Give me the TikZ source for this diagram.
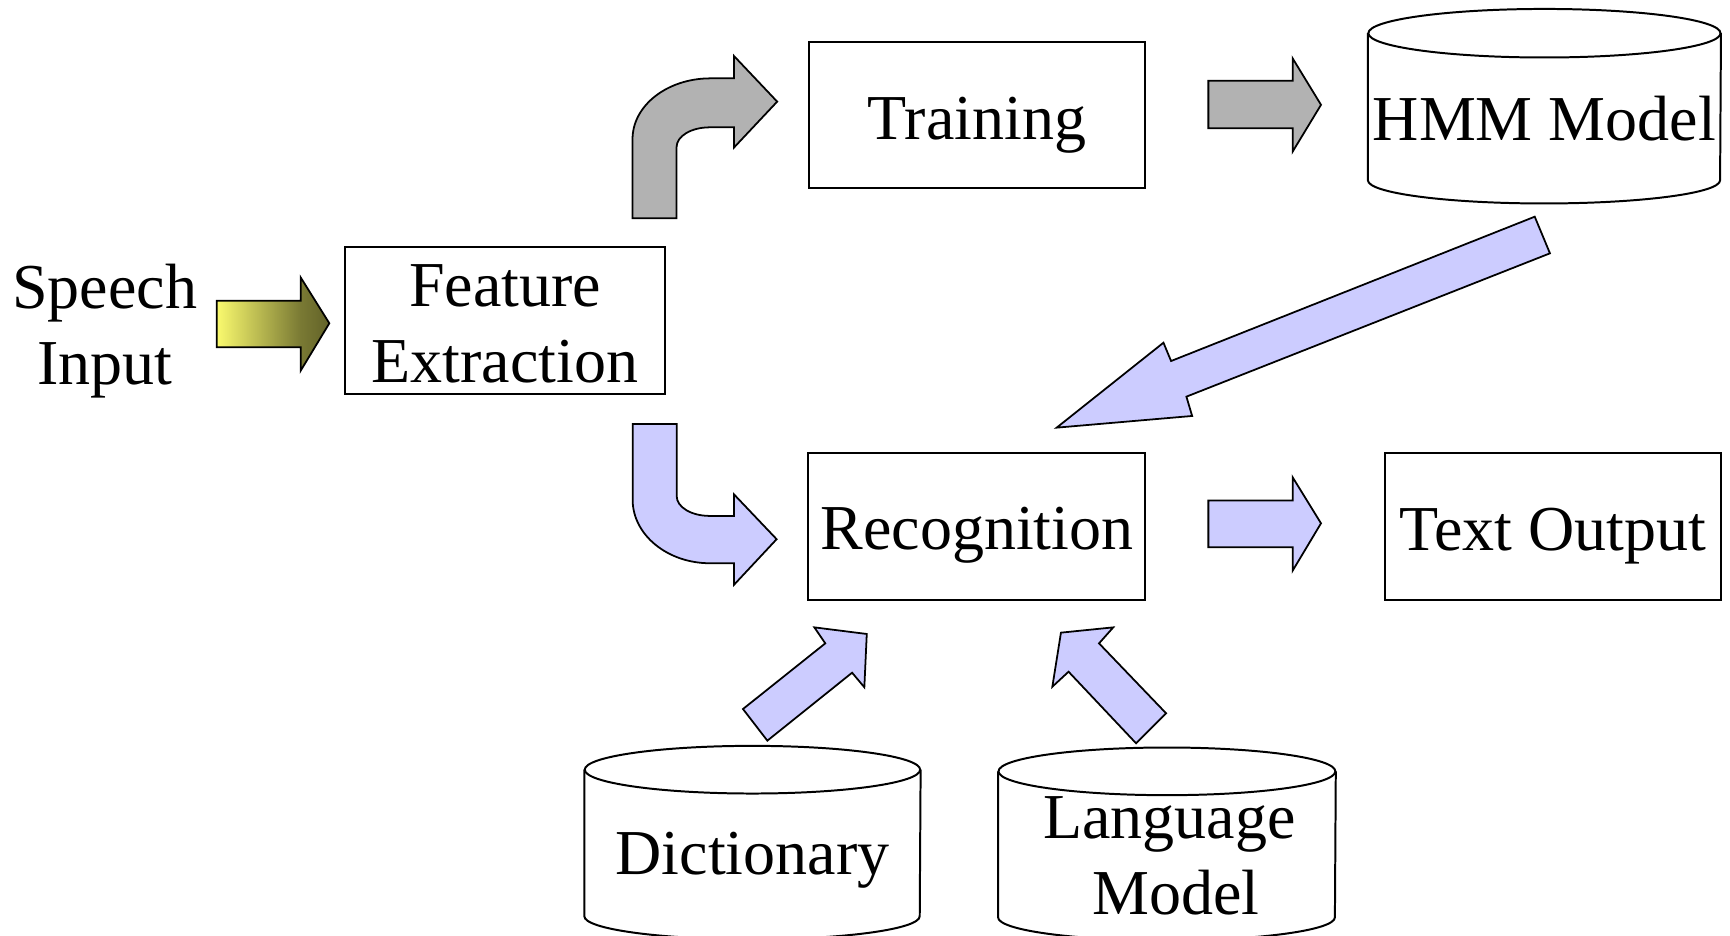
\documentclass[tikz,border=0pt]{standalone}
\usepackage{fontspec}
\setmainfont{Liberation Serif}
\definecolor{blockgray}{RGB}{178,178,178}
\definecolor{flowblue}{RGB}{204,204,255}
\definecolor{speechA}{RGB}{250,250,110}
\definecolor{speechB}{RGB}{122,122,52}
\definecolor{speechC}{RGB}{98,98,40}
\pgfdeclarehorizontalshading{speechgrad}{100bp}{color(0bp)=(speechA); color(25bp)=(speechA); color(62bp)=(speechB); color(75bp)=(speechC); color(100bp)=(speechC)}

\begin{document}
\begin{tikzpicture}[x=0.5pt, y=-0.5pt,
  font=\fontsize{29pt}{34.5pt}\selectfont,
  procbox/.style={draw, line width=0.9pt, inner sep=0pt},
  store/.style={inner sep=0pt},
  storeline/.style={line width=0.9pt},
  blockarrow/.style={draw, line width=0.8pt, line join=miter}]

\clip (0,0) rectangle (1568,848);
\fill[white] (0,0) rectangle (1568,848);

% ---------- processing boxes ----------
\node[procbox, minimum width=145.25pt, minimum height=66.75pt,
      text height=27pt, text depth=39.75pt] (feat) at (457.75,290.75)
      {\begin{tabular}[t]{@{}c@{}}Feature\\Extraction\end{tabular}};
\node[procbox, minimum width=152.5pt, minimum height=66.25pt,
      text height=44.15pt, text depth=22.1pt] (train) at (885.5,104.25) {Training};
\node[procbox, minimum width=152.75pt, minimum height=66.7pt,
      text height=44.05pt, text depth=22.65pt] (recog) at (885.45,477) {Recognition};
\node[procbox, minimum width=152.1pt, minimum height=66.6pt,
      text height=44.1pt, text depth=22.5pt] (out) at (1407.4,477.1) {Text Output};

% ---------- input label ----------
\node[inner sep=0pt, anchor=base] (speech) at (95,279.5)
      {\begin{tabular}[t]{@{}c@{}}Speech\\Input\end{tabular}};

% ---------- data stores (cylinders) ----------
\node[store, minimum width=159.6pt, minimum height=66.25pt,
      text height=48.5pt, text depth=17.75pt] (hmm) at (1399.8,96.75) {HMM Model};
\node[store, minimum width=152pt, minimum height=66pt,
      text height=47.5pt, text depth=18.5pt] (dict) at (682,764) {Dictionary};
\node[store, minimum width=152.65pt, minimum height=65.75pt,
      text height=30.25pt, text depth=35.5pt] (lang) at (1057.65,765.25)
      {\begin{tabular}[t]{@{}c@{}}\hspace*{2.4pt}Language\\\hspace*{8.4pt}Model\end{tabular}};

\draw[storeline] (hmm.north west) -- (hmm.south west)
   arc[start angle=180, end angle=360, x radius=79.8pt, y radius=10.5pt] -- (hmm.north east);
\draw[storeline] (hmm.north) ellipse[x radius=79.8pt, y radius=11pt];

\draw[storeline] (dict.north west) -- (dict.south west)
   arc[start angle=180, end angle=360, x radius=76pt, y radius=10.5pt] -- (dict.north east);
\draw[storeline] (dict.north) ellipse[x radius=76pt, y radius=10.8pt];

\draw[storeline] (lang.north west) -- (lang.south west)
   arc[start angle=180, end angle=360, x radius=76.325pt, y radius=10.5pt] -- (lang.north east);
\draw[storeline] (lang.north) ellipse[x radius=76.325pt, y radius=10.8pt];

% ---------- block arrows ----------
% speech -> feature extraction
\shadedraw[shading=speechgrad, blockarrow]
  (196.4,272.5) -- (272.5,272.5) -- (272.5,251.4) -- (298.5,293)
  -- (272.5,336) -- (272.5,314.8) -- (196.4,314.8) -- cycle;

% feature extraction -> training (bent upwards)
\path[blockarrow, fill=blockgray]
  (573.3,197.8) -- (573.3,126) .. controls (573.3,95.6) and (604.8,71) .. (644,71)
  -- (665.2,71) -- (665.2,50.7) -- (704.4,92.1) -- (665.2,133.8) -- (665.2,115.4)
  -- (643.2,115.4) .. controls (626.6,115.4) and (613.2,123.3) .. (613.2,133.4)
  -- (613.2,197.8) -- cycle;

% training -> HMM model
\path[blockarrow, fill=blockgray]
  (1095.2,73.1) -- (1171.6,73.1) -- (1171.6,52.9) -- (1197.3,95)
  -- (1171.6,137.4) -- (1171.6,116.3) -- (1095.2,116.3) -- cycle;

% feature extraction -> recognition (bent downwards)
\path[blockarrow, fill=flowblue]
  (573.4,384.2) -- (573.4,453) .. controls (573.4,484.7) and (604.9,510.5) .. (643.5,510.5)
  -- (665.2,510.5) -- (665.2,530.1) -- (703.9,488.7) -- (665.2,448) -- (665.2,467.6)
  -- (643.3,467.6) .. controls (626.7,467.6) and (613.3,459.7) .. (613.3,449.6)
  -- (613.3,384.2) -- cycle;

% HMM model -> recognition
\path[blockarrow, fill=flowblue]
  (1391,196.4) -- (1404.8,229.6) -- (1075.3,359.5) -- (1080.5,377)
  -- (957.7,387.6) -- (1054.5,310.6) -- (1061.4,327.2) -- cycle;

% recognition -> text output
\path[blockarrow, fill=flowblue]
  (1095.2,453.7) -- (1171.6,453.7) -- (1171.6,432.6) -- (1197.3,474.3)
  -- (1171.6,517.2) -- (1171.6,496) -- (1095.2,496) -- cycle;

% dictionary -> recognition
\path[blockarrow, fill=flowblue]
  (695.5,671.3) -- (673.4,642.6) -- (748,583.1) -- (738.1,568.6)
  -- (785.6,574.6) -- (783.4,622.9) -- (772.3,609.7) -- cycle;

% language model -> recognition
\path[blockarrow, fill=flowblue]
  (961.6,573.4) -- (1009,568.6) -- (996.1,583.1) -- (1056.9,646.5)
  -- (1029.7,673.7) -- (968.5,608.8) -- (953.8,622.4) -- cycle;

\end{tikzpicture}
\end{document}
